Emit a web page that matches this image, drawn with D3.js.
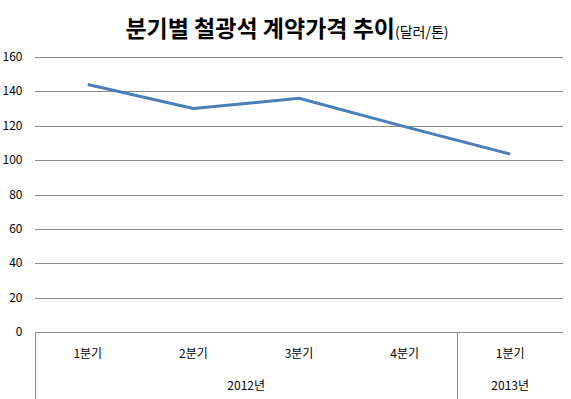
<!DOCTYPE html>
<html>
<head>
<meta charset="utf-8">
<script src="https://cdn.jsdelivr.net/npm/d3@7"></script>
<style>
  body { margin: 0; background: #fff; }
  svg { display: block; font-family: "Noto Sans CJK KR", "Noto Sans", sans-serif; }
</style>
</head>
<body>
<svg id="chart" width="571" height="399"></svg>
<script>
const quarters = ['1분기', '2분기', '3분기', '4분기', '1분기'];
const yearOf = ['2012년', '2012년', '2012년', '2012년', '2013년'];
const prices = [144, 130, 136, 119.5, 103.5]; // 달러/톤
const yTicks = [0, 20, 40, 60, 80, 100, 120, 140, 160];

const margin = { top: 57, right: 8, bottom: 67, left: 35 };
const W = 571, H = 399;

const svg = d3.select('#chart');

const x = d3.scaleBand()
  .domain(d3.range(quarters.length))
  .range([margin.left, W - margin.right])
  .padding(0);

const y = d3.scaleLinear()
  .domain([0, 160])
  .range([H - margin.bottom, margin.top]);

// grid lines
svg.append('g')
  .selectAll('line')
  .data(yTicks.filter(d => d > 0))
  .enter().append('line')
  .attr('x1', margin.left)
  .attr('x2', W - margin.right)
  .attr('y1', d => Math.round(y(d)) + 0.5)
  .attr('y2', d => Math.round(y(d)) + 0.5)
  .attr('stroke', '#8c8c8c')
  .attr('stroke-width', 1);

// y tick labels
svg.append('g')
  .selectAll('text')
  .data(yTicks)
  .enter().append('text')
  .attr('x', 22.5)
  .attr('y', d => y(d) + 4)
  .attr('text-anchor', 'end')
  .style('font-size', '12px')
  .style('fill', '#000')
  .text(d => d);

// x axis baseline
const y0 = Math.round(y(0)) + 0.5;
svg.append('line')
  .attr('x1', margin.left)
  .attr('x2', W - margin.right)
  .attr('y1', y0)
  .attr('y2', y0)
  .attr('stroke', '#8c8c8c');

// year dividers: left edge + every year boundary
const dividers = [0];
yearOf.forEach((yr, i) => { if (i > 0 && yr !== yearOf[i - 1]) dividers.push(i); });
svg.append('g')
  .selectAll('line')
  .data(dividers)
  .enter().append('line')
  .attr('x1', d => Math.round(x(d)) + 0.5)
  .attr('x2', d => Math.round(x(d)) + 0.5)
  .attr('y1', y0)
  .attr('y2', H)
  .attr('stroke', '#8c8c8c');

// quarter labels
svg.append('g')
  .selectAll('text')
  .data(quarters)
  .enter().append('text')
  .attr('x', (d, i) => x(i) + x.bandwidth() / 2)
  .attr('y', 358)
  .attr('text-anchor', 'middle')
  .style('font-size', '12px')
  .text(d => d);

// year labels, centred over their quarters
const years = Array.from(new Set(yearOf));
svg.append('g')
  .selectAll('text')
  .data(years)
  .enter().append('text')
  .attr('x', yr => {
    const idx = yearOf.map((v, i) => v === yr ? i : -1).filter(i => i >= 0);
    return (x(idx[0]) + x(idx[idx.length - 1]) + x.bandwidth()) / 2;
  })
  .attr('y', 390)
  .attr('text-anchor', 'middle')
  .style('font-size', '12px')
  .text(d => d);

// price line
const line = d3.line()
  .x((d, i) => x(i) + x.bandwidth() / 2)
  .y(d => y(d));

svg.append('path')
  .datum(prices)
  .attr('fill', 'none')
  .attr('stroke', '#4a7ebb')
  .attr('stroke-width', 3)
  .attr('stroke-linejoin', 'round')
  .attr('d', line);

// title
const title = svg.append('text')
  .attr('x', 287)
  .attr('y', 37)
  .attr('text-anchor', 'middle');
title.append('tspan')
  .style('font-size', '23px')
  .style('font-weight', 'bold')
  .text('분기별 철광석 계약가격 추이');
title.append('tspan')
  .style('font-size', '14px')
  .text('(달러/톤)');
</script>
</body>
</html>
